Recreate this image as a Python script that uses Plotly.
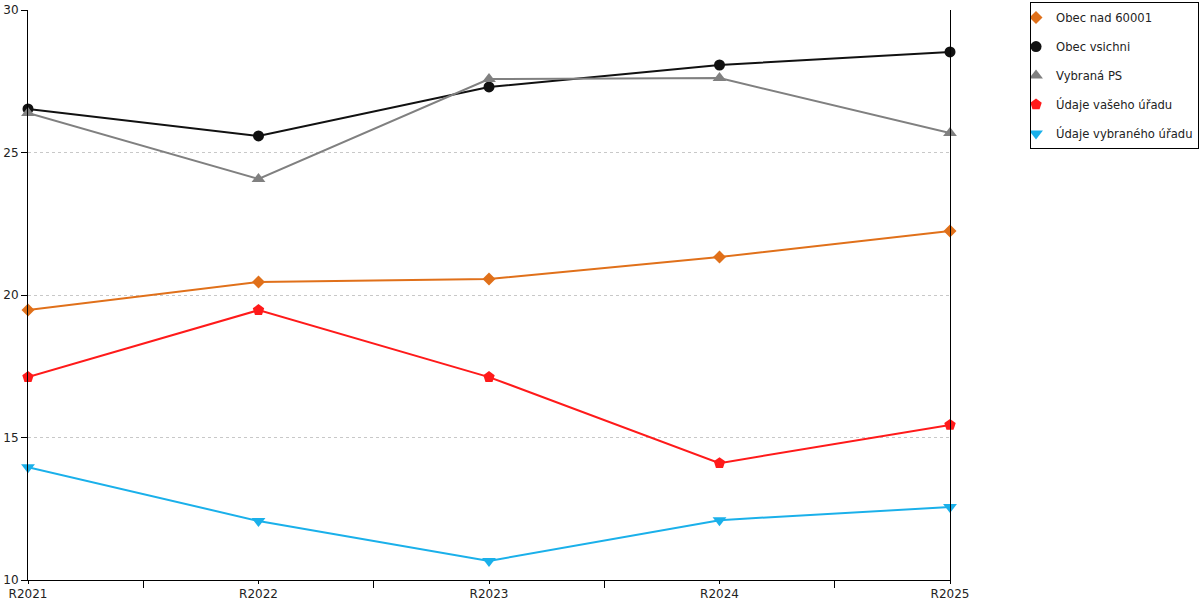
import plotly.graph_objects as go

years = ["R2021", "R2022", "R2023", "R2024", "R2025"]

obec_nad_60001 = [19.47, 20.46, 20.56, 21.33, 22.25]
obec_vsichni = [26.53, 25.58, 27.30, 28.07, 28.53]
vybrana_ps = [26.39, 24.07, 27.58, 27.61, 25.68]
udaje_vaseho = [17.12, 19.47, 17.12, 14.10, 15.44]
udaje_vybraneho = [13.96, 12.07, 10.67, 12.10, 12.56]

y_ticks = [10, 15, 20, 25, 30]

series = [
    ("Obec nad 60001", obec_nad_60001, "#e0701a", "diamond", 10),
    ("Obec vsichni", obec_vsichni, "#111111", "circle", 11),
    ("Vybraná PS", vybrana_ps, "#808080", "triangle-up", 12),
    ("Údaje vašeho úřadu", udaje_vaseho, "#ff1a1a", "pentagon", 12),
    ("Údaje vybraného úřadu", udaje_vybraneho, "#1ab0ea", "triangle-down", 12),
]

xs = list(range(len(years)))

fig = go.Figure()
for i, (name, vals, color, sym, size) in enumerate(series):
    fig.add_trace(go.Scatter(
        x=xs, y=vals, mode="lines+markers", name=name,
        line=dict(color=color, width=2),
        marker=dict(symbol=sym, size=size, color=color),
        showlegend=False, cliponaxis=False,
    ))
    # legend entry with marker only
    fig.add_trace(go.Scatter(
        x=[None], y=[None], mode="markers", name=name,
        marker=dict(symbol=sym, size=size, color=color),
        legendgroup="g%d" % i,
    ))

fig.update_layout(
    width=1200, height=600,
    margin=dict(l=28, r=250, t=10, b=20, autoexpand=False),
    plot_bgcolor="white", paper_bgcolor="white",
    font=dict(family="DejaVu Sans", size=12, color="#222"),
    legend=dict(
        x=1.0868, xanchor="left", y=1.0140, yanchor="top",
        bordercolor="black", borderwidth=1,
        tracegroupgap=10, indentation=-15,
        font=dict(size=11.6),
    ),
)
fig.update_xaxes(
    range=[0, 4], tickvals=xs, ticktext=years, automargin=False,
    showgrid=False, zeroline=False,
    showline=True, linecolor="black", linewidth=1,
    ticks="outside", ticklen=3, tickcolor="black",
    minor=dict(tick0=0.5, dtick=1, ticks="outside", ticklen=7, tickcolor="black"),
)
fig.update_yaxes(
    range=[10, 30], tickvals=y_ticks, automargin=False,
    showgrid=True, gridcolor="#c8c8c8", griddash="3px,3px", gridwidth=1,
    zeroline=False,
    showline=True, linecolor="black", linewidth=1, mirror=True,
    ticks="outside", ticklen=6, tickcolor="black",
)

fig.write_html("out.html", config={"displayModeBar": False},
               post_script="document.body.style.margin='0px';")
